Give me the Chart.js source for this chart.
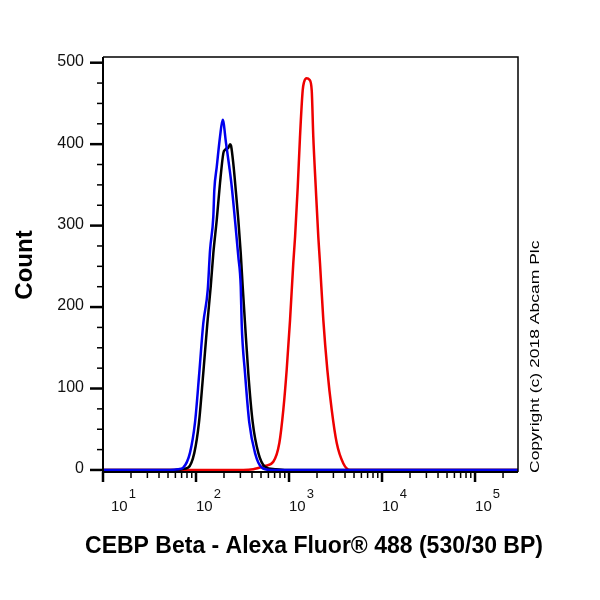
<!DOCTYPE html>
<html>
<head>
<meta charset="utf-8">
<title>CEBP Beta flow histogram</title>
<script src="https://cdn.jsdelivr.net/npm/chart.js@4.4.1/dist/chart.umd.min.js"></script>
<style>
  html, body { margin: 0; padding: 0; background: #fff; }
  canvas { display: block; }
</style>
</head>
<body>
<canvas id="histo" width="600" height="600"></canvas>
<script>
"use strict";
// fluorescence intensity (x) and count (y)
const blueX = [10, 52.5, 64.6, 72.9, 86.1, 97.5, 108.4, 119.7, 133.7, 141.6, 153.5, 157.4, 167.1, 181.1, 193.6, 210.4, 228.0, 242.1, 262.4, 285.1, 302.7, 309.7, 336.5, 374.1, 430.5, 508.2, 625.2, 289700];
const blueY = [0, 0, 1, 3, 21, 58, 119, 180, 221, 270, 311, 344, 372, 409, 430, 401, 372, 348, 307, 262, 225, 180, 119, 58, 21, 3, 0, 0];

const blackX = [10, 59.4, 70.1, 82.6, 95.9, 107.6, 119.7, 132.4, 143.9, 153.5, 167.1, 181.1, 196.8, 205.1, 213.8, 221.3, 232.3, 238.2, 251.8, 267.3, 285.1, 302.7, 317.7, 336.5, 364.8, 407.4, 467.7, 552.1, 706.3, 944.1, 289700];
const blackY = [0, 0, 1, 3, 21, 58, 119, 180, 225, 266, 307, 352, 389, 393, 395, 395, 400, 398, 376, 344, 307, 266, 225, 180, 119, 58, 21, 4, 1, 0, 0];

const redX = [10, 322.8, 413.0, 552.1, 677.6, 787.0, 868.9, 944.1, 1025.6, 1111.7, 1161.4, 1241.7, 1312.2, 1402.8, 1449, 1548.8, 1659.6, 1753.9, 1824.0, 1936.4, 2065.4, 2152.8, 2338.8, 2582.3, 2877.0, 3258.4, 3837.1, 4528.6, 289700];
const redY = [0, 0, 1, 5, 10, 33, 74, 123, 184, 254, 286, 348, 409, 466, 476, 481, 479, 466, 409, 348, 286, 254, 184, 123, 74, 33, 8, 0, 0];

// axis ticks
const yMajor = [0, 100, 200, 300, 400, 500];
const yMinor = [25, 50, 75, 125, 150, 175, 225, 250, 275, 325, 350, 375, 425, 450, 475];
const xDecades = [1, 2, 3, 4, 5];

const xTitle = "CEBP Beta - Alexa Fluor\u00AE 488 (530/30 BP)";
const yTitle = "Count";
const note = "Copyright (c) 2018 Abcam Plc";

function toPoints(xs, ys) {
    return xs.map((x, i) => ({ x: x, y: ys[i] }));
}

// frame, ticks and labels drawn onto the library's scales
const axesPlugin = {
    id: "flowAxes",
    afterDraw(chart) {
        const ctx = chart.ctx;
        const area = chart.chartArea;
        const sx = chart.scales.x;
        const sy = chart.scales.y;
        ctx.save();
        ctx.strokeStyle = "#000";
        ctx.fillStyle = "#111";

        // box
        ctx.lineWidth = 1.5;
        ctx.beginPath();
        ctx.moveTo(area.left, area.top);
        ctx.lineTo(area.right, area.top);
        ctx.lineTo(area.right, area.bottom);
        ctx.stroke();
        ctx.lineWidth = 2;
        ctx.beginPath();
        ctx.moveTo(area.left, area.top);
        ctx.lineTo(area.left, area.bottom);
        ctx.lineTo(area.right, area.bottom);
        ctx.stroke();

        // y ticks
        yMajor.forEach(v => {
            const py = sy.getPixelForValue(v);
            ctx.lineWidth = 2.5;
            ctx.beginPath();
            ctx.moveTo(area.left - 13, py);
            ctx.lineTo(area.left, py);
            ctx.stroke();
        });
        yMinor.forEach(v => {
            const py = sy.getPixelForValue(v);
            ctx.lineWidth = 1.5;
            ctx.beginPath();
            ctx.moveTo(area.left - 6, py);
            ctx.lineTo(area.left, py);
            ctx.stroke();
        });
        ctx.font = '16px "Liberation Sans", Arial, sans-serif';
        ctx.textAlign = "right";
        ctx.textBaseline = "middle";
        yMajor.forEach(v => {
            ctx.fillText(String(v), area.left - 19, sy.getPixelForValue(v) - 1);
        });

        // x ticks (log decades)
        xDecades.forEach(d => {
            for (let m = 1; m <= 9; m++) {
                const v = m * Math.pow(10, d);
                if (v > sx.max) break;
                const px = sx.getPixelForValue(v);
                ctx.lineWidth = m === 1 ? 2.5 : 1.5;
                ctx.beginPath();
                ctx.moveTo(px, area.bottom);
                ctx.lineTo(px, area.bottom + (m === 1 ? 10 : 6));
                ctx.stroke();
            }
        });
        ctx.textAlign = "left";
        ctx.textBaseline = "alphabetic";
        xDecades.forEach(d => {
            const px = Math.max(sx.getPixelForValue(Math.pow(10, d)), area.left + 8);
            ctx.font = '15px "Liberation Sans", Arial, sans-serif';
            ctx.fillText("10", px, 511);
            const w = ctx.measureText("10").width;
            ctx.font = '13px "Liberation Sans", Arial, sans-serif';
            ctx.fillText(String(d), px + w + 1, 498);
        });

        // titles
        ctx.fillStyle = "#000";
        ctx.font = 'bold 23px "Liberation Sans", Arial, sans-serif';
        ctx.textAlign = "center";
        ctx.fillText(xTitle, 314, 553);

        ctx.save();
        ctx.translate(32, 265);
        ctx.rotate(-Math.PI / 2);
        ctx.font = 'bold 24px "Liberation Sans", Arial, sans-serif';
        ctx.fillText(yTitle, 0, 0);
        ctx.restore();

        ctx.save();
        ctx.translate(539, 473);
        ctx.rotate(-Math.PI / 2);
        ctx.scale(1.4, 1);
        ctx.font = '12.5px "Liberation Sans", Arial, sans-serif';
        ctx.textAlign = "left";
        ctx.fillText(note, 0, 0);
        ctx.restore();

        ctx.restore();
    }
};

const lineStyle = {
    borderWidth: 2.5,
    pointRadius: 0,
    fill: false,
    cubicInterpolationMode: "monotone"
};

new Chart(document.getElementById("histo"), {
    type: "line",
    data: {
        datasets: [
            Object.assign({ label: "blue", data: toPoints(blueX, blueY), borderColor: "#0000ee" }, lineStyle),
            Object.assign({ label: "black", data: toPoints(blackX, blackY), borderColor: "#000000" }, lineStyle),
            Object.assign({ label: "red", data: toPoints(redX, redY), borderColor: "#ee0000" }, lineStyle)
        ]
    },
    options: {
        responsive: false,
        animation: false,
        devicePixelRatio: 1,
        layout: { padding: { left: 103, top: 57, right: 82, bottom: 128 } },
        plugins: { legend: { display: false }, tooltip: { enabled: false } },
        scales: {
            x: { type: "logarithmic", min: 10, max: 289700, display: false },
            y: { type: "linear", min: -2.5, max: 507, display: false }
        }
    },
    plugins: [axesPlugin]
});
</script>
</body>
</html>
